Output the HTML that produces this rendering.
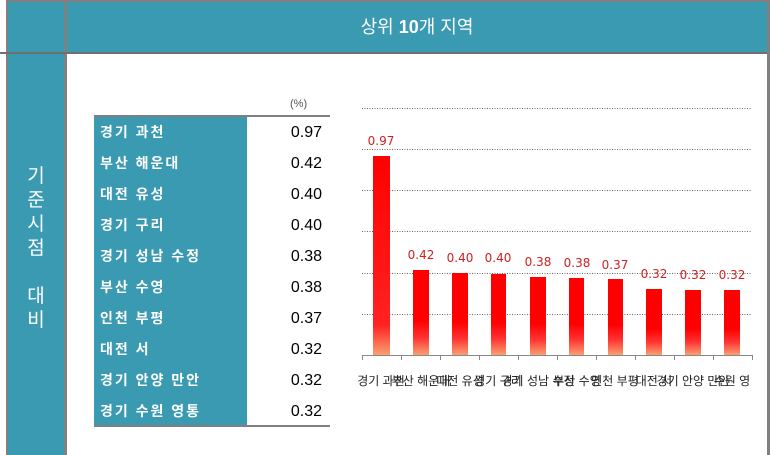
<!DOCTYPE html><html><head><meta charset="utf-8"><style>
body{margin:0;width:770px;height:455px;overflow:hidden;background:#fff;font-family:"Liberation Sans","Noto Sans CJK KR",sans-serif;position:relative}
div{position:absolute;box-sizing:border-box}
.t{background:#3a9ab2}
.lab{left:94px;width:153px;height:31px;color:#fff;font-weight:bold;font-size:14px;line-height:31px;padding-left:6px;letter-spacing:2px}
.val{left:247px;width:75px;height:31px;text-align:right;font-size:16px;line-height:31px;color:#000}
</style></head><body>
<div class="t" style="left:7px;top:0;width:763px;height:53px;border-top:2px solid #808080"></div>
<div style="left:6px;top:0;width:2px;height:455px;background:#808080"></div>
<div style="left:64px;top:0;width:3px;height:455px;background:#808080"></div>
<div style="left:0;top:52px;width:770px;height:2px;background:#707070"></div>
<div style="left:767px;top:0;width:3px;height:455px;background:#808080"></div>
<div class="t" style="left:8px;top:54px;width:56px;height:401px"></div>
<div style="left:67px;top:0;width:700px;height:52px;color:#fff;font-size:18px;line-height:54px;text-align:center">상위 <b>10</b>개 지역</div>
<div style="left:8px;top:165px;width:56px;color:#fff;font-size:19px;line-height:24px;text-align:center">기<br>준<br>시<br>점<br><br>대<br>비</div>
<div style="left:290px;top:98px;font-size:11px;color:#555">(%)</div>
<div style="left:94px;top:115px;width:236px;height:2px;background:#808080"></div>
<div class="t" style="left:94px;top:117px;width:153px;height:308px"></div>
<div style="left:94px;top:425px;width:236px;height:2px;background:#808080"></div>
<div class="lab" style="top:117px">경기 과천</div><div class="val" style="top:117px">0.97</div>
<div class="lab" style="top:148px">부산 해운대</div><div class="val" style="top:148px">0.42</div>
<div class="lab" style="top:179px">대전 유성</div><div class="val" style="top:179px">0.40</div>
<div class="lab" style="top:210px">경기 구리</div><div class="val" style="top:210px">0.40</div>
<div class="lab" style="top:241px">경기 성남 수정</div><div class="val" style="top:241px">0.38</div>
<div class="lab" style="top:272px">부산 수영</div><div class="val" style="top:272px">0.38</div>
<div class="lab" style="top:303px">인천 부평</div><div class="val" style="top:303px">0.37</div>
<div class="lab" style="top:334px">대전 서</div><div class="val" style="top:334px">0.32</div>
<div class="lab" style="top:365px">경기 안양 만안</div><div class="val" style="top:365px">0.32</div>
<div class="lab" style="top:396px">경기 수원 영통</div><div class="val" style="top:396px">0.32</div>
<svg style="position:absolute;left:0;top:0" width="770" height="455">
<defs><linearGradient id="g" x1="0" y1="0" x2="0" y2="1"><stop offset="0" stop-color="#f00"/><stop offset="0.6" stop-color="#f00"/><stop offset="0.8" stop-color="#f33"/><stop offset="1" stop-color="#f9a070"/></linearGradient>
<linearGradient id="g2" x1="0" y1="0" x2="0" y2="1"><stop offset="0" stop-color="#f00"/><stop offset="0.85" stop-color="#f22"/><stop offset="1" stop-color="#f9a070"/></linearGradient></defs>
<g stroke="#666" stroke-dasharray="1,1.5" stroke-width="1">
<line x1="362" x2="752" y1="108.5" y2="108.5"/><line x1="362" x2="752" y1="149.5" y2="149.5"/><line x1="362" x2="752" y1="190.5" y2="190.5"/><line x1="362" x2="752" y1="231.5" y2="231.5"/><line x1="362" x2="752" y1="273.5" y2="273.5"/><line x1="362" x2="752" y1="314.5" y2="314.5"/></g>
<g fill="url(#g)">
<rect x="373" y="156" width="17" height="199" fill="url(#g2)"/>
<rect x="413" y="270" width="16" height="85"/><rect x="452" y="273" width="16" height="82"/><rect x="491" y="274" width="15" height="81"/><rect x="530" y="277" width="16" height="78"/><rect x="569" y="278" width="15" height="77"/><rect x="608" y="279" width="15" height="76"/><rect x="646" y="289" width="16" height="66"/><rect x="685" y="290" width="16" height="65"/><rect x="724" y="290" width="16" height="65"/></g>
<g stroke="#888"><line x1="362" x2="752" y1="355.5" y2="355.5"/>
<line x1="362.5" x2="362.5" y1="355" y2="360"/><line x1="401.5" x2="401.5" y1="355" y2="360"/><line x1="440.5" x2="440.5" y1="355" y2="360"/><line x1="479.5" x2="479.5" y1="355" y2="360"/><line x1="518.5" x2="518.5" y1="355" y2="360"/><line x1="557.5" x2="557.5" y1="355" y2="360"/><line x1="596.5" x2="596.5" y1="355" y2="360"/><line x1="635.5" x2="635.5" y1="355" y2="360"/><line x1="674.5" x2="674.5" y1="355" y2="360"/><line x1="713.5" x2="713.5" y1="355" y2="360"/><line x1="752.5" x2="752.5" y1="355" y2="360"/></g>
<g fill="#d02020" font-size="12" text-anchor="middle" font-family="DejaVu Sans,sans-serif">
<text x="381" y="145">0.97</text><text x="421" y="259">0.42</text><text x="460" y="262">0.40</text><text x="498" y="262">0.40</text><text x="538" y="266">0.38</text><text x="577" y="267">0.38</text><text x="615" y="269">0.37</text><text x="654" y="278">0.32</text><text x="693" y="279">0.32</text><text x="732" y="279">0.32</text></g>
<g fill="#222" font-size="12" text-anchor="middle" font-family="Liberation Sans,Noto Sans CJK KR,sans-serif">
<text x="381" y="385">경기 과천</text><text x="421" y="385">부산 해운대</text><text x="460" y="385">대전 유성</text><text x="498" y="385">경기 구리</text><text x="538" y="385">경기 성남 수정</text><text x="577" y="385">부산 수영</text><text x="615" y="385">인천 부평</text><text x="654" y="385">대전 서</text><text x="693" y="385">경기 안양 만안</text><text x="732" y="385">수원 영</text></g>
</svg>
</body></html>
